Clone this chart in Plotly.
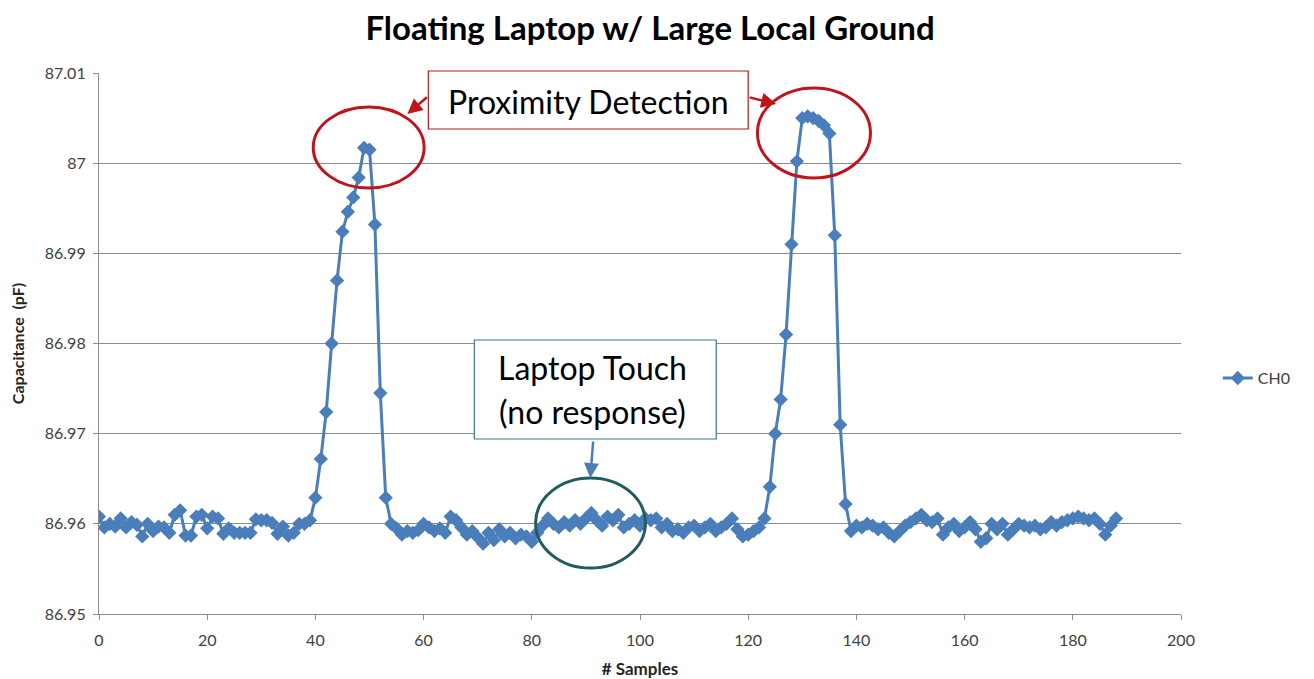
import plotly.graph_objects as go

samples = list(range(189))
ch0 = [
    86.9608, 86.9596, 86.9600, 86.9597, 86.9606, 86.9596, 86.9602, 86.9599, 86.9586, 86.9600,
    86.9592, 86.9597, 86.9596, 86.9590, 86.9610, 86.9615, 86.9587, 86.9587, 86.9608, 86.9610,
    86.9595, 86.9608, 86.9606, 86.9589, 86.9595, 86.9590, 86.9590, 86.9590, 86.9590, 86.9605,
    86.9604, 86.9604, 86.9601, 86.9589, 86.9597, 86.9587, 86.9590, 86.9600, 86.9600, 86.9604,
    86.9629, 86.9672, 86.9724, 86.9800, 86.9870, 86.9924, 86.9946, 86.9962, 86.9984, 87.0017,
    87.0015, 86.9932, 86.9745, 86.9629, 86.9600, 86.9595, 86.9588, 86.9592, 86.9590, 86.9593,
    86.9600, 86.9596, 86.9592, 86.9595, 86.9590, 86.9608, 86.9604, 86.9596, 86.9588, 86.9592,
    86.9585, 86.9578, 86.9590, 86.9582, 86.9594, 86.9586, 86.9590, 86.9584, 86.9588, 86.9586,
    86.9580, 86.9590, 86.9598, 86.9606, 86.9600, 86.9596, 86.9602, 86.9598, 86.9604, 86.9600,
    86.9606, 86.9612, 86.9604, 86.9598, 86.9608, 86.9604, 86.9610, 86.9596, 86.9600, 86.9604,
    86.9598, 86.9606, 86.9604, 86.9606, 86.9596, 86.9600, 86.9592, 86.9594, 86.9590, 86.9596,
    86.9598, 86.9592, 86.9596, 86.9600, 86.9592, 86.9596, 86.9600, 86.9606, 86.9594, 86.9586,
    86.9588, 86.9592, 86.9596, 86.9606, 86.9641, 86.9700, 86.9738, 86.9810, 86.9910, 87.0002,
    87.0050, 87.0052, 87.0050, 87.0047, 87.0042, 87.0033, 86.9920, 86.9710, 86.9622, 86.9592,
    86.9598, 86.9596, 86.9600, 86.9598, 86.9594, 86.9596, 86.9590, 86.9586, 86.9592, 86.9598,
    86.9602, 86.9606, 86.9610, 86.9604, 86.9602, 86.9606, 86.9588, 86.9596, 86.9600, 86.9592,
    86.9596, 86.9602, 86.9594, 86.9580, 86.9584, 86.9600, 86.9594, 86.9600, 86.9588, 86.9594,
    86.9600, 86.9598, 86.9596, 86.9598, 86.9594, 86.9596, 86.9602, 86.9598, 86.9602, 86.9604,
    86.9606, 86.9608, 86.9606, 86.9604, 86.9606, 86.9600, 86.9588, 86.9598, 86.9606,
]

y_tickvals = [86.95, 86.96, 86.97, 86.98, 86.99, 87.00, 87.01]
y_ticktext = ["86.95", "86.96", "86.97", "86.98", "86.99", "87", "87.01"]
x_tickvals = [0, 20, 40, 60, 80, 100, 120, 140, 160, 180, 200]

title_text = "Floating Laptop w/ Large Local Ground"
x_title = "# Samples"
y_title = "Capacitance  (pF)"
series_name = "CH0"

BLUE = "#4a7ebb"
RED = "#c0141c"
TEAL_BOX = "#3c7b88"
TEAL_ELL = "#1f5e5e"
GRID = "#8c8c8c"
FONT = "Lato, Liberation Sans, sans-serif"
TICKFONT = dict(family=FONT, size=16, color="#404040")

# the page body has an 8px margin; figure is sized so the plot area lands at page px 98.5..1181, 73..614
FIG_W, FIG_H = 1306, 671


def px(xp):
    return (xp - 98.5) / 1082.5


def py(yp):
    return (614 - yp) / 541


fig = go.Figure()
fig.add_trace(go.Scatter(
    x=samples, y=ch0, mode="lines+markers", name=series_name,
    line=dict(color=BLUE, width=3),
    marker=dict(symbol="diamond", size=11, color=BLUE),
))

shapes = [
    dict(type="circle", xref="x", yref="y", x0=39.6, x1=60.1, y0=86.99725, y1=87.00623,
         line=dict(color=RED, width=3)),
    dict(type="circle", xref="x", yref="y", x0=121.7, x1=142.6, y0=86.99836, y1=87.00834,
         line=dict(color=RED, width=3)),
    dict(type="circle", xref="x", yref="y", x0=80.7, x1=101.0, y0=86.9551, y1=86.96509,
         line=dict(color=TEAL_ELL, width=3)),
    dict(type="rect", xref="paper", yref="paper",
         x0=px(428), x1=px(748), y0=py(129), y1=py(71),
         line=dict(color=RED, width=1.2), fillcolor="white", layer="above"),
    dict(type="rect", xref="paper", yref="paper",
         x0=px(474), x1=px(716), y0=py(439), y1=py(340),
         line=dict(color=TEAL_BOX, width=1.2), fillcolor="white", layer="above"),
]

ANN_FONT = dict(family=FONT, size=32, color="black")
annotations = [
    dict(text="Proximity Detection", xref="paper", yref="paper", x=px(588), y=py(101),
         showarrow=False, font=ANN_FONT, xanchor="center", yanchor="middle"),
    dict(text="Laptop Touch", xref="paper", yref="paper", x=px(592), y=py(367),
         showarrow=False, font=ANN_FONT, xanchor="center", yanchor="middle"),
    dict(text="(no response)", xref="paper", yref="paper", x=px(592), y=py(412),
         showarrow=False, font=ANN_FONT, xanchor="center", yanchor="middle"),
    dict(text="", xref="paper", yref="paper", x=px(407), y=py(114),
         ax=21, ay=-18, axref="pixel", ayref="pixel",
         showarrow=True, arrowhead=2, arrowsize=1.2, arrowwidth=2.5, arrowcolor=RED),
    dict(text="", xref="paper", yref="paper", x=px(776), y=py(104),
         ax=-28, ay=-7, axref="pixel", ayref="pixel",
         showarrow=True, arrowhead=2, arrowsize=1.2, arrowwidth=2.5, arrowcolor=RED),
    dict(text="", xref="paper", yref="paper", x=px(590), y=py(478),
         ax=3, ay=-38, axref="pixel", ayref="pixel",
         showarrow=True, arrowhead=2, arrowsize=1.2, arrowwidth=2.5, arrowcolor=BLUE),
]

fig.update_layout(
    width=FIG_W, height=FIG_H,
    margin=dict(l=90.5, r=133, t=65, b=65),
    paper_bgcolor="white", plot_bgcolor="white",
    title=dict(text=title_text, x=642 / FIG_W, xanchor="center", y=1 - 20 / FIG_H,
               yanchor="middle",
               font=dict(family=FONT, size=33, color="black", weight="bold")),
    showlegend=True,
    legend=dict(x=1.034, y=0.436, xanchor="left", yanchor="middle", xref="paper",
                font=dict(family=FONT, size=16, color="#404040"),
                bgcolor="rgba(0,0,0,0)"),
    shapes=shapes,
    annotations=annotations,
    xaxis=dict(range=[0, 200], tickvals=x_tickvals, showgrid=False, zeroline=False,
               showline=True, linecolor=GRID, linewidth=1.2, automargin=False,
               ticks="outside", ticklen=5, tickcolor=GRID, tickfont=TICKFONT,
               ticklabelstandoff=7,
               title=dict(text=x_title, standoff=18,
                          font=dict(family=FONT, size=17, color="#262626", weight="bold"))),
    yaxis=dict(range=[86.95, 87.01], tickvals=y_tickvals, ticktext=y_ticktext,
               showgrid=True, gridcolor=GRID, gridwidth=1, zeroline=False,
               showline=True, linecolor=GRID, linewidth=1.2, automargin=False,
               ticks="outside", ticklen=5, tickcolor=GRID, tickfont=TICKFONT,
               ticklabelstandoff=4,
               title=dict(text=y_title, standoff=17,
                          font=dict(family=FONT, size=16, color="#262626", weight="bold"))),
)

fig.write_html("out.html")
